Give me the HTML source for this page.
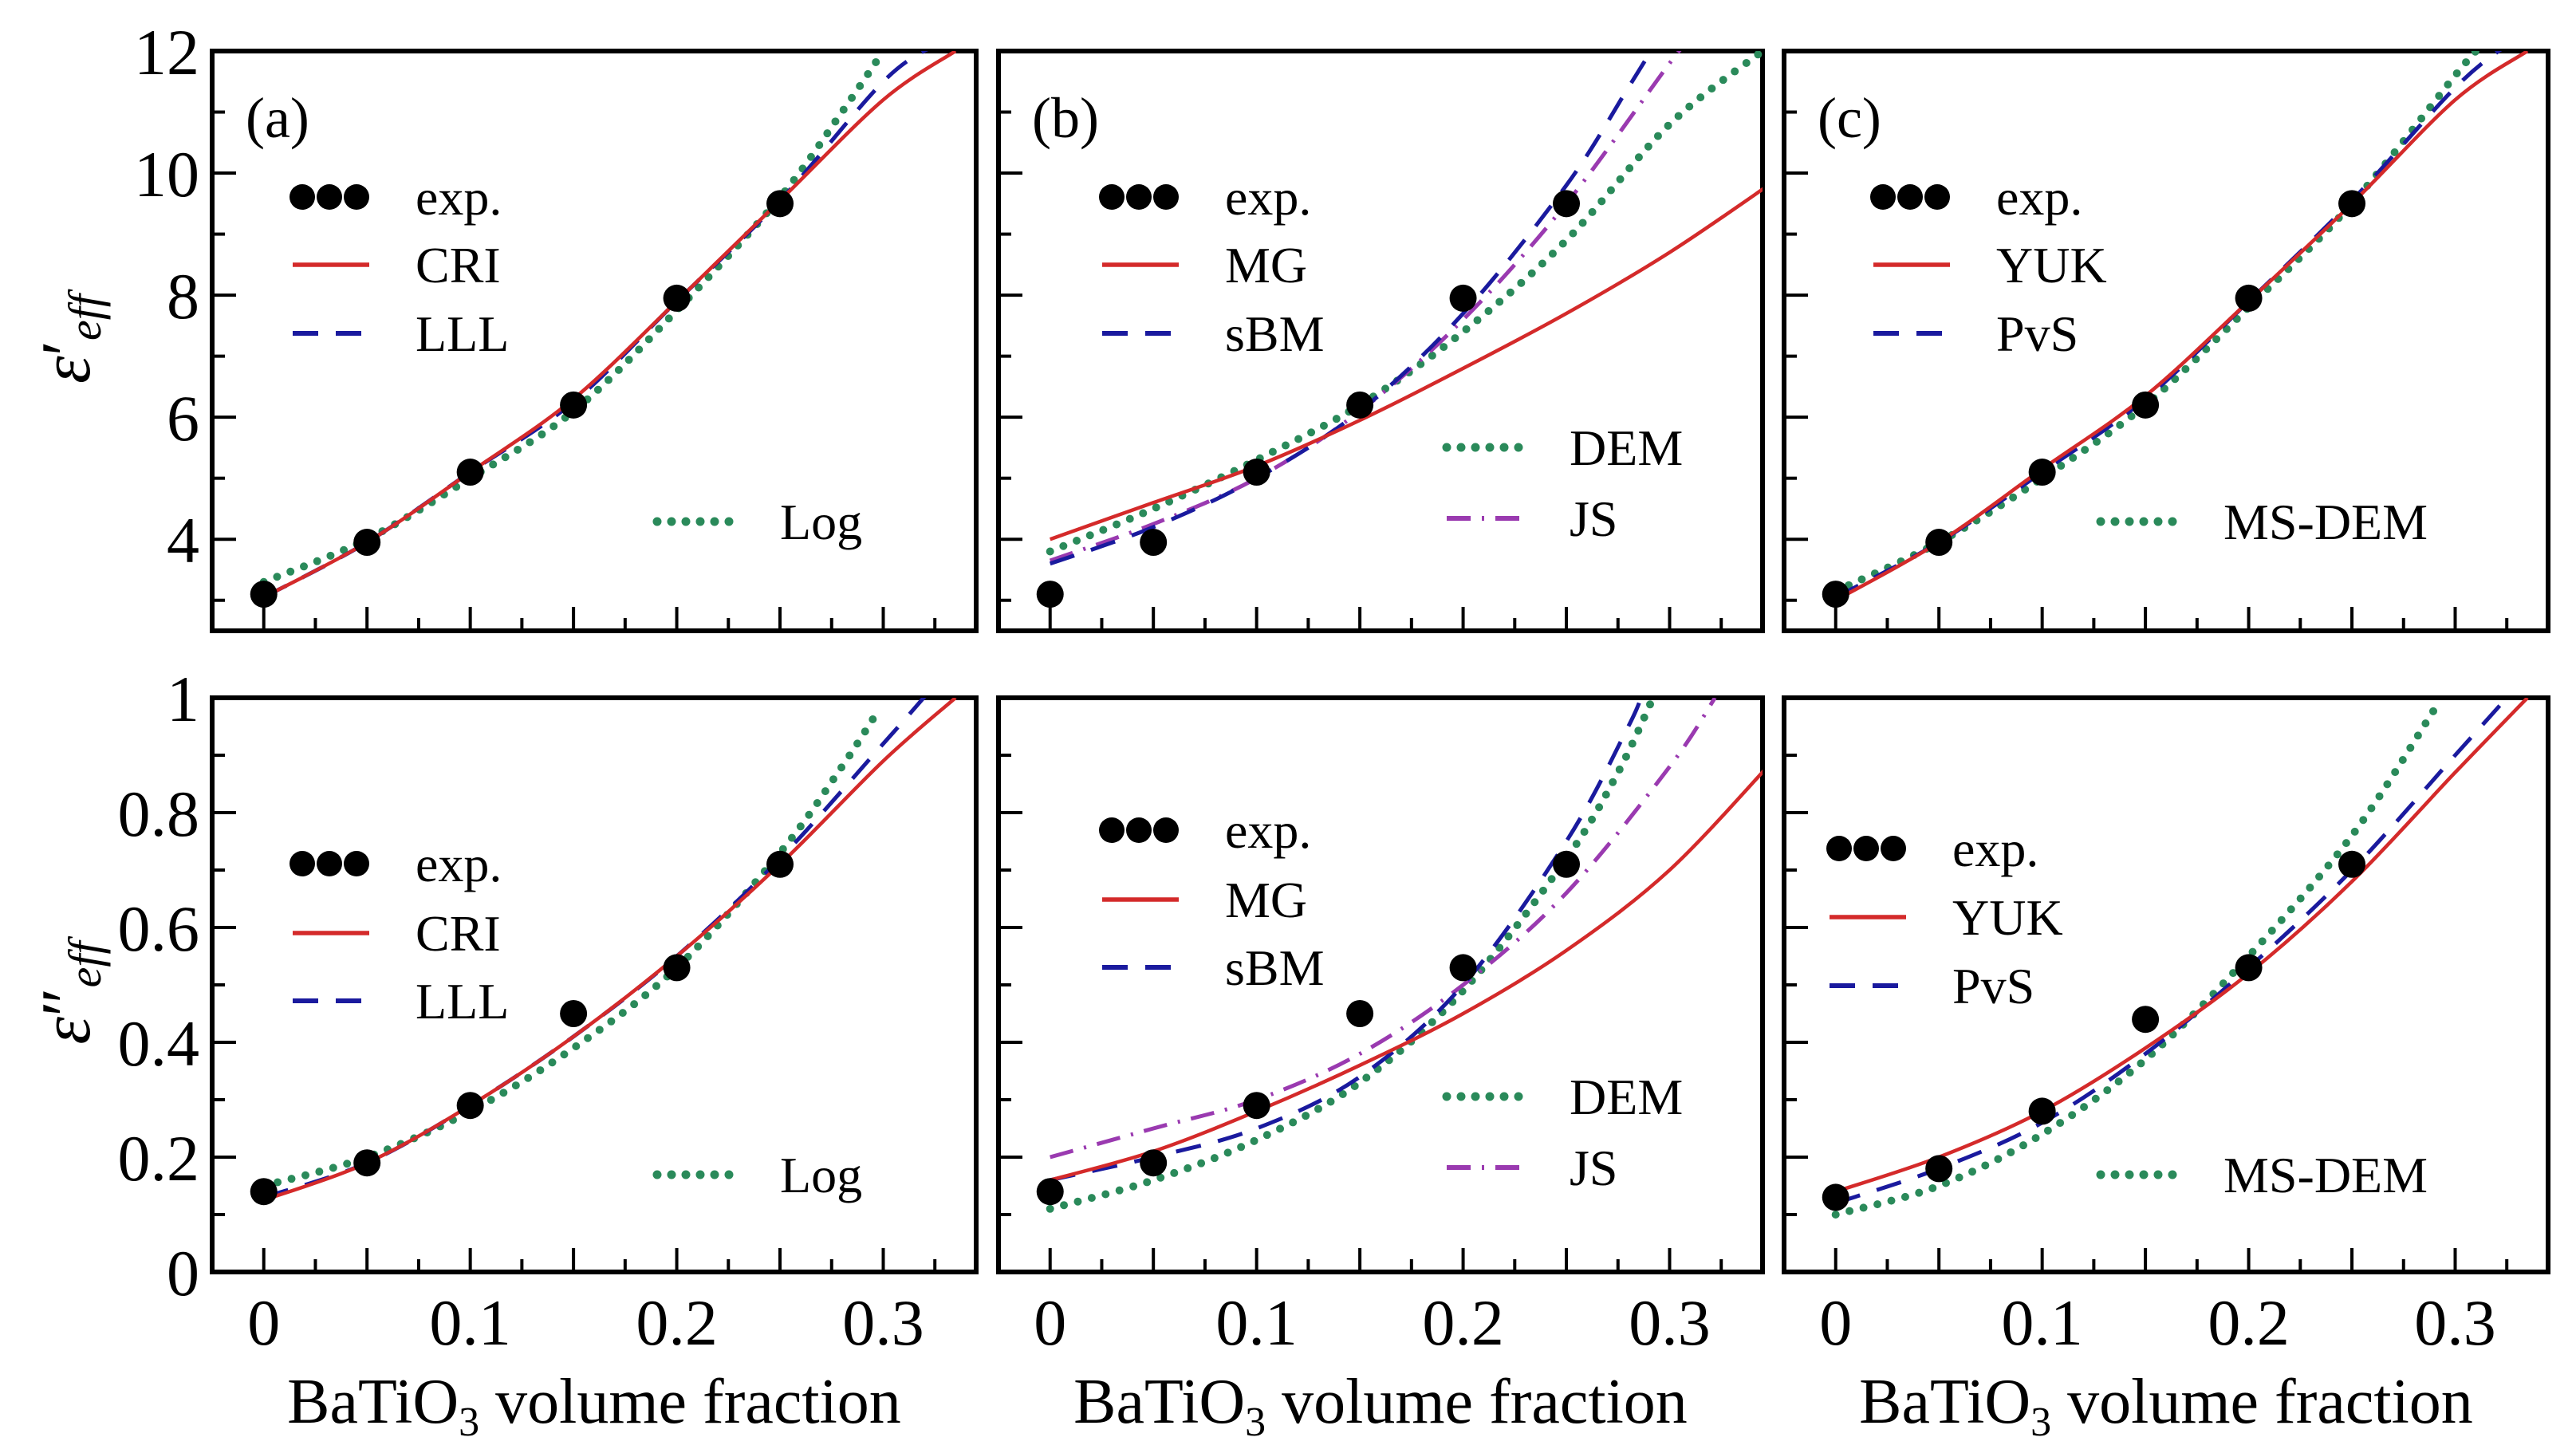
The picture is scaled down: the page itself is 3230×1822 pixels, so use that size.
<!DOCTYPE html>
<html><head><meta charset="utf-8">
<style>
html,body{margin:0;padding:0;background:#fff;}
svg{display:block;}
text{font-family:"Liberation Serif","DejaVu Serif",serif;fill:#000;}
</style></head>
<body>
<svg id="chart" width="3230" height="1822" viewBox="0 0 3230 1822" xmlns="http://www.w3.org/2000/svg"></svg>
<script>
// ---- data ----
const expX = [0, 0.05, 0.1, 0.15, 0.2, 0.25];
const expReal = [3.1, 3.95, 5.1, 6.2, 7.95, 9.5];
const expImagAB = [0.14, 0.19, 0.29, 0.45, 0.53, 0.71];
const expImagC = [0.13, 0.18, 0.28, 0.44, 0.53, 0.71];

const criRealX = [0, 0.05, 0.1, 0.15, 0.2, 0.25, 0.3, 0.335];
const criRealY = [3.05, 3.95, 5.1, 6.3, 7.9, 9.55, 11.2, 12];
const lllRealX = [0, 0.05, 0.1, 0.15, 0.2, 0.25, 0.3, 0.325];
const lllRealY = [3.05, 3.95, 5.1, 6.25, 7.9, 9.55, 11.5, 12.1];
const logRealX = [0, 0.05, 0.1, 0.15, 0.2, 0.25, 0.28, 0.3];
const logRealY = [3.3, 4.0, 5.0, 6.1, 7.75, 9.6, 11.0, 12.0];

const mgRealX = [0, 0.05, 0.1, 0.15, 0.2, 0.25, 0.3, 0.35];
const mgRealY = [4.0, 4.6, 5.2, 5.95, 6.8, 7.7, 8.7, 9.85];
const sbmRealX = [0, 0.05, 0.1, 0.15, 0.2, 0.25, 0.28, 0.3];
const sbmRealY = [3.6, 4.2, 5.0, 6.1, 7.7, 9.8, 11.4, 12.5];
const jsRealX = [0, 0.05, 0.1, 0.15, 0.2, 0.25, 0.3, 0.31];
const jsRealY = [3.65, 4.25, 5.0, 6.1, 7.6, 9.5, 11.8, 12.2];
const demRealX = [0, 0.05, 0.1, 0.15, 0.2, 0.25, 0.3, 0.345];
const demRealY = [3.8, 4.5, 5.3, 6.2, 7.4, 8.9, 10.8, 12.0];

const yukRealX = [0, 0.05, 0.1, 0.15, 0.2, 0.25, 0.3, 0.335];
const yukRealY = [3.0, 3.95, 5.15, 6.35, 7.9, 9.5, 11.2, 12.0];
const pvsRealX = [0, 0.05, 0.1, 0.15, 0.2, 0.25, 0.3, 0.325];
const pvsRealY = [3.05, 3.95, 5.1, 6.3, 7.9, 9.55, 11.4, 12.1];
const msdemRealX = [0, 0.05, 0.1, 0.15, 0.2, 0.25, 0.3, 0.31];
const msdemRealY = [3.15, 3.95, 5.0, 6.2, 7.8, 9.5, 11.6, 12.0];

const criImX = [0, 0.05, 0.1, 0.15, 0.2, 0.25, 0.3, 0.335];
const criImY = [0.125, 0.19, 0.29, 0.41, 0.55, 0.71, 0.89, 1.0];
const lllImX = [0, 0.05, 0.1, 0.15, 0.2, 0.25, 0.3, 0.322];
const lllImY = [0.13, 0.19, 0.29, 0.41, 0.55, 0.72, 0.92, 1.01];
const logImX = [0, 0.05, 0.1, 0.15, 0.2, 0.25, 0.28, 0.298];
const logImY = [0.15, 0.2, 0.28, 0.39, 0.53, 0.73, 0.88, 0.98];

const mgImX = [0, 0.05, 0.1, 0.15, 0.2, 0.25, 0.3, 0.35];
const mgImY = [0.16, 0.21, 0.28, 0.36, 0.45, 0.56, 0.7, 0.89];
const sbmImX = [0, 0.05, 0.1, 0.15, 0.2, 0.25, 0.28, 0.287];
const sbmImY = [0.16, 0.2, 0.25, 0.34, 0.5, 0.75, 0.95, 1.01];
const jsImX = [0, 0.05, 0.1, 0.15, 0.2, 0.25, 0.3, 0.322];
const jsImY = [0.2, 0.25, 0.3, 0.38, 0.5, 0.66, 0.88, 1.0];
const demImX = [0, 0.05, 0.1, 0.15, 0.2, 0.25, 0.275, 0.292];
const demImY = [0.11, 0.16, 0.23, 0.33, 0.49, 0.72, 0.87, 1.0];

const yukImX = [0, 0.05, 0.1, 0.15, 0.2, 0.25, 0.3, 0.335];
const yukImY = [0.14, 0.2, 0.28, 0.39, 0.52, 0.68, 0.87, 1.0];
const pvsImX = [0, 0.05, 0.1, 0.15, 0.2, 0.25, 0.3, 0.325];
const pvsImY = [0.12, 0.18, 0.26, 0.38, 0.53, 0.7, 0.9, 1.0];
const msdemImX = [0, 0.05, 0.1, 0.15, 0.2, 0.25, 0.29];
const msdemImY = [0.1, 0.15, 0.24, 0.37, 0.55, 0.76, 0.98];

const xTickLabels = ["0", "0.1", "0.2", "0.3"];
const yTickLabelsTop = ["4", "6", "8", "10", "12"];
const yTickLabelsBottom = ["0", "0.2", "0.4", "0.6", "0.8", "1"];

// ---- layout ----
const NS = "http://www.w3.org/2000/svg";
const svg = document.getElementById("chart");
const colLeft = [266, 1252, 2237];
const PW = 958;
const XMIN = -0.025, XMAX = 0.345;
const rows = [{top: 64, bottom: 791, ymin: 2.5, ymax: 12}, {top: 875, bottom: 1595, ymin: 0, ymax: 1}];

function mk(tag, attrs, parent) {
  const e = document.createElementNS(NS, tag);
  for (const k in attrs) e.setAttribute(k, attrs[k]);
  (parent || svg).appendChild(e);
  return e;
}
function xs(c, v) { return colLeft[c] + (v - XMIN) / (XMAX - XMIN) * PW; }
function ys(r, v) { const R = rows[r]; return R.bottom - (v - R.ymin) / (R.ymax - R.ymin) * (R.bottom - R.top); }

const styles = {
  red: {stroke: "#d42a2a", "stroke-width": 4.5, fill: "none"},
  blue: {stroke: "#1a1a9e", "stroke-width": 5, fill: "none", "stroke-dasharray": "32 22"},
  green: {stroke: "#2a8a5a", "stroke-width": 10, fill: "none", "stroke-dasharray": "0 18", "stroke-linecap": "round"},
  purple: {stroke: "#9a3ab0", "stroke-width": 5, fill: "none", "stroke-dasharray": "30 14 3 14"}
};

function clipFor(r, c) {
  const id = "clip" + r + c;
  const cp = mk("clipPath", {id: id}, svg);
  mk("rect", {x: colLeft[c], y: rows[r].top, width: PW, height: rows[r].bottom - rows[r].top}, cp);
}

function drawCurve(r, c, X, Y, st, name) {
  const P = X.map(function (x, i) { return [xs(c, x), ys(r, Y[i])]; });
  let d = "M" + P[0][0].toFixed(1) + "," + P[0][1].toFixed(1);
  for (let i = 0; i < P.length - 1; i++) {
    const p0 = P[i - 1] || P[i], p1 = P[i], p2 = P[i + 1], p3 = P[i + 2] || P[i + 1];
    const c1 = [p1[0] + (p2[0] - p0[0]) / 6, p1[1] + (p2[1] - p0[1]) / 6];
    const c2 = [p2[0] - (p3[0] - p1[0]) / 6, p2[1] - (p3[1] - p1[1]) / 6];
    d += "C" + c1[0].toFixed(1) + "," + c1[1].toFixed(1) + " " + c2[0].toFixed(1) + "," + c2[1].toFixed(1) + " " + p2[0].toFixed(1) + "," + p2[1].toFixed(1);
  }
  const p = mk("path", Object.assign({d: d, "clip-path": "url(#clip" + r + c + ")"}, styles[st]));
  
  
}
function drawExp(r, c, Y, name) {
  const g = mk("g", {});
  
  
  for (let i = 0; i < expX.length; i++) {
    const ci = mk("circle", {cx: xs(c, expX[i]), cy: ys(r, Y[i]), r: 17, fill: "#000"}, g);
    
    
  }
}
function legendEntry(x, y, type, label, name) {
  const g = mk("g", {});
  
  
  if (type === "exp") {
    for (let k = 0; k < 3; k++) mk("circle", {cx: x + 16 + k * 34, cy: y, r: 16, fill: "#000"}, g);
  } else {
    const st = Object.assign({}, styles[type]);
    st["stroke-width"] = st["stroke-width"] + 1;
    mk("line", Object.assign({x1: x + 4, y1: y, x2: x + 100, y2: y}, st), g);
  }
  const t = mk("text", {x: x + 158, y: y + 22, "font-size": 64}, g);
  t.textContent = label;
}

function drawPanel(r, c) {
  const R = rows[r];
  clipFor(r, c);
  const g = mk("g", {});
  
  
  for (let i = 0; i <= 13; i++) {
    const X = xs(c, i * 0.025);
    const major = (i % 2 === 0);
    mk("line", {x1: X, y1: R.bottom, x2: X, y2: R.bottom - (major ? 30 : 16), stroke: "#000", "stroke-width": 4}, g);
  }
  if (r === 0) {
    for (let v = 3; v <= 11; v++) {
      const Y = ys(0, v);
      mk("line", {x1: colLeft[c], y1: Y, x2: colLeft[c] + (v % 2 === 0 ? 30 : 16), y2: Y, stroke: "#000", "stroke-width": 4}, g);
    }
  } else {
    for (let i = 1; i <= 9; i++) {
      const Y = ys(1, i / 10);
      mk("line", {x1: colLeft[c], y1: Y, x2: colLeft[c] + (i % 2 === 0 ? 30 : 16), y2: Y, stroke: "#000", "stroke-width": 4}, g);
    }
  }
  mk("rect", {x: colLeft[c], y: R.top, width: PW, height: R.bottom - R.top, fill: "none", stroke: "#000", "stroke-width": 6}, g);
}

for (let r = 0; r < 2; r++) for (let c = 0; c < 3; c++) drawPanel(r, c);

yTickLabelsTop.forEach(function (s) {
  const t = mk("text", {x: 250, y: ys(0, parseFloat(s)) + 29, "font-size": 82, "text-anchor": "end"});
  t.textContent = s;
  
  
});
yTickLabelsBottom.forEach(function (s) {
  const t = mk("text", {x: 250, y: ys(1, parseFloat(s)) + 29, "font-size": 82, "text-anchor": "end"});
  t.textContent = s;
  
  
});
for (let c = 0; c < 3; c++) {
  xTickLabels.forEach(function (s) {
    const t = mk("text", {x: xs(c, parseFloat(s)), y: 1686, "font-size": 82, "text-anchor": "middle"});
    t.textContent = s;
    
    
  });
  const t = mk("text", {x: colLeft[c] + PW / 2, y: 1784, "font-size": 80, "text-anchor": "middle"});
  
  
  t.innerHTML = 'BaTiO<tspan font-size="52" dy="16">3</tspan><tspan dy="-16"> volume fraction</tspan>';
  const lb = mk("text", {x: colLeft[c] + 42, y: 172, "font-size": 72});
  lb.textContent = ["(a)", "(b)", "(c)"][c];
  
  
}
[[425, "′"], [1245, "″"]].forEach(function (p, i) {
  const t = mk("text", {x: 0, y: 0, "font-size": 88, "text-anchor": "middle", transform: "translate(112," + p[0] + ") rotate(-90)"});
  
  
  t.innerHTML = '<tspan font-style="italic">ε</tspan>' + p[1] + '<tspan font-style="italic" font-size="58" dy="14">eff</tspan>';
});

// ---- series ----
drawCurve(0, 0, logRealX, logRealY, "green", "log-curve");
drawCurve(0, 0, lllRealX, lllRealY, "blue", "lll-curve");
drawCurve(0, 0, criRealX, criRealY, "red", "cri-curve");
drawExp(0, 0, expReal, "exp-series");

drawCurve(0, 1, demRealX, demRealY, "green", "dem-curve");
drawCurve(0, 1, jsRealX, jsRealY, "purple", "js-curve");
drawCurve(0, 1, sbmRealX, sbmRealY, "blue", "sbm-curve");
drawCurve(0, 1, mgRealX, mgRealY, "red", "mg-curve");
drawExp(0, 1, expReal, "exp-series");

drawCurve(0, 2, msdemRealX, msdemRealY, "green", "ms-dem-curve");
drawCurve(0, 2, pvsRealX, pvsRealY, "blue", "pvs-curve");
drawCurve(0, 2, yukRealX, yukRealY, "red", "yuk-curve");
drawExp(0, 2, expReal, "exp-series");

drawCurve(1, 0, logImX, logImY, "green", "log-curve");
drawCurve(1, 0, lllImX, lllImY, "blue", "lll-curve");
drawCurve(1, 0, criImX, criImY, "red", "cri-curve");
drawExp(1, 0, expImagAB, "exp-series");

drawCurve(1, 1, demImX, demImY, "green", "dem-curve");
drawCurve(1, 1, jsImX, jsImY, "purple", "js-curve");
drawCurve(1, 1, sbmImX, sbmImY, "blue", "sbm-curve");
drawCurve(1, 1, mgImX, mgImY, "red", "mg-curve");
drawExp(1, 1, expImagAB, "exp-series");

drawCurve(1, 2, msdemImX, msdemImY, "green", "ms-dem-curve");
drawCurve(1, 2, pvsImX, pvsImY, "blue", "pvs-curve");
drawCurve(1, 2, yukImX, yukImY, "red", "yuk-curve");
drawExp(1, 2, expImagC, "exp-series");

// ---- legends ----
legendEntry(363, 247, "exp", "exp.", "legend-exp");
legendEntry(363, 332, "red", "CRI", "legend-cri");
legendEntry(363, 418, "blue", "LLL", "legend-lll");
legendEntry(820, 654, "green", "Log", "legend-log");

legendEntry(1378, 247, "exp", "exp.", "legend-exp");
legendEntry(1378, 332, "red", "MG", "legend-mg");
legendEntry(1378, 418, "blue", "sBM", "legend-sbm");
legendEntry(1810, 561, "green", "DEM", "legend-dem");
legendEntry(1810, 650, "purple", "JS", "legend-js");

legendEntry(2345, 247, "exp", "exp.", "legend-exp");
legendEntry(2345, 332, "red", "YUK", "legend-yuk");
legendEntry(2345, 418, "blue", "PvS", "legend-pvs");
legendEntry(2630, 654, "green", "MS-DEM", "legend-ms-dem");

legendEntry(363, 1083, "exp", "exp.", "legend-exp");
legendEntry(363, 1170, "red", "CRI", "legend-cri");
legendEntry(363, 1255, "blue", "LLL", "legend-lll");
legendEntry(820, 1473, "green", "Log", "legend-log");

legendEntry(1378, 1041, "exp", "exp.", "legend-exp");
legendEntry(1378, 1128, "red", "MG", "legend-mg");
legendEntry(1378, 1213, "blue", "sBM", "legend-sbm");
legendEntry(1810, 1375, "green", "DEM", "legend-dem");
legendEntry(1810, 1464, "purple", "JS", "legend-js");

legendEntry(2290, 1064, "exp", "exp.", "legend-exp");
legendEntry(2290, 1150, "red", "YUK", "legend-yuk");
legendEntry(2290, 1236, "blue", "PvS", "legend-pvs");
legendEntry(2630, 1473, "green", "MS-DEM", "legend-ms-dem");
</script>
</body></html>
